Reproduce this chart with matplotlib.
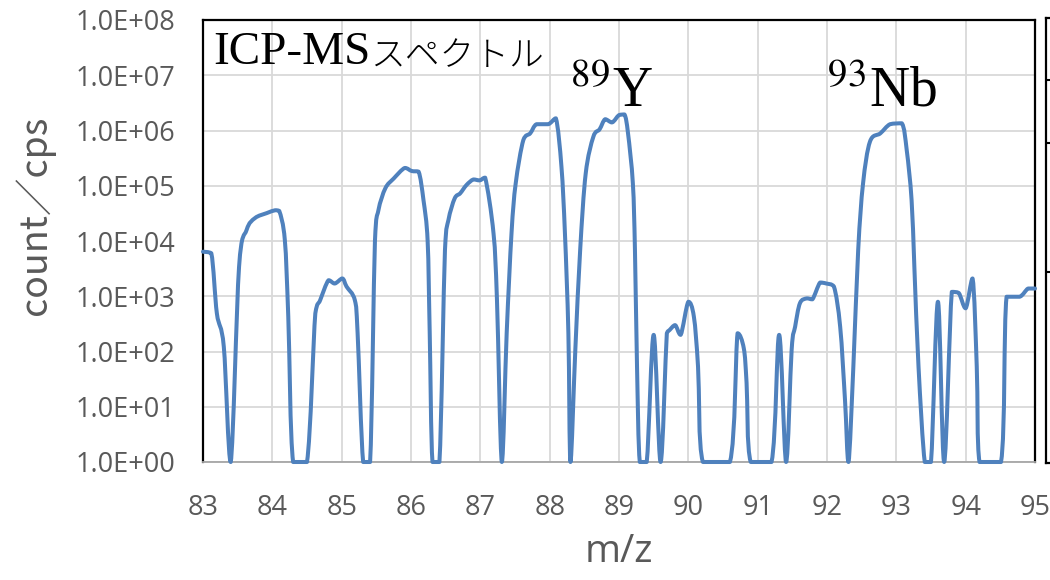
import matplotlib

matplotlib.use("Agg")
import matplotlib.pyplot as plt
import numpy as np
from matplotlib.patches import PathPatch
from matplotlib.path import Path
from matplotlib.ticker import FixedLocator, FuncFormatter, NullLocator

# traced spectrum (m/z, counts per second)
mz = [
    83.00, 83.12, 83.20, 83.30, 83.40, 83.52, 83.63, 83.75, 83.92, 84.04,
    84.10, 84.18, 84.23, 84.30, 84.50, 84.62, 84.69, 84.81, 84.90, 85.01,
    85.07, 85.19, 85.23, 85.31, 85.41, 85.48, 85.53, 85.63, 85.75, 85.91,
    86.01, 86.11, 86.18, 86.24, 86.27, 86.31, 86.41, 86.49, 86.54, 86.63,
    86.71, 86.80, 86.90, 86.99, 87.07, 87.19, 87.24, 87.31, 87.38, 87.45,
    87.51, 87.62, 87.72, 87.81, 87.98, 88.09, 88.17, 88.22, 88.27, 88.30,
    88.37, 88.44, 88.52, 88.63, 88.72, 88.80, 88.90, 89.00, 89.08, 89.13,
    89.20, 89.23, 89.26, 89.30, 89.40, 89.50, 89.60, 89.69, 89.73, 89.81,
    89.89, 90.00, 90.08, 90.14, 90.21, 90.60, 90.71, 90.80, 90.84, 90.90,
    91.20, 91.31, 91.41, 91.49, 91.54, 91.61, 91.71, 91.79, 91.90, 91.99,
    92.10, 92.19, 92.26, 92.31, 92.38, 92.45, 92.52, 92.62, 92.77, 92.91,
    93.08, 93.15, 93.22, 93.26, 93.32, 93.41, 93.50, 93.60, 93.69, 93.80,
    93.90, 94.00, 94.10, 94.16, 94.20, 94.51, 94.59, 94.78, 94.90, 95.00,
]
counts = [
    6.4e3, 6.0e3, 490, 122, 1, 3.4e3, 1.6e4, 2.6e4, 3.2e4, 3.6e4,
    3.5e4, 1.05e4, 426, 1, 1, 490, 850, 1.95e3, 1.7e3, 2.1e3,
    1.5e3, 850, 214, 1, 1, 1.0e4, 3.6e4, 9.0e4, 1.35e5, 2.1e5,
    1.85e5, 1.8e5, 5.5e4, 1.0e4, 214, 1, 1, 6.9e3, 2.4e4, 5.9e4,
    7.3e4, 1.03e5, 1.3e5, 1.25e5, 1.4e5, 1.38e4, 850, 1, 214, 1.4e4,
    1.1e5, 6.7e5, 8.9e5, 1.3e6, 1.3e6, 1.66e6, 2.2e5, 1.4e4, 214, 1,
    107, 6.9e3, 1.67e5, 7.7e5, 1.05e6, 1.6e6, 1.4e6, 1.9e6, 1.95e6, 8.9e5,
    1.1e5, 6.9e3, 53, 1, 1, 200, 1, 214, 245, 300,
    200, 795, 426, 53, 1, 1, 214, 114, 27, 1,
    1, 200, 1, 107, 280, 750, 915, 880, 1.77e3, 1.7e3,
    1.5e3, 280, 13, 1, 53, 6.9e3, 1.1e5, 6.3e5, 8.9e5, 1.3e6,
    1.35e6, 4.4e5, 5.5e4, 3.4e3, 53, 1, 1, 795, 1, 1.2e3,
    1.15e3, 605, 2.1e3, 53, 1, 1, 980, 980, 1.38e3, 1.38e3,
]

x_ticks = list(range(83, 96))
y_ticks = [10.0 ** k for k in range(0, 9)]

peak_labels = ["$^{89}$Y", "$^{93}$Nb"]
peak_pos = [(88.29, 2.7e6), (92.0, 2.7e6)]

LINE_COLOR = "#4F81BD"
TEXT_GRAY = "#595959"


def smoothed_path(xs, ys):
    """Bezier path through the points, like a spreadsheet 'smoothed line' (log y)."""
    x = np.asarray(xs, float)
    ly = np.log10(np.asarray(ys, float))
    n = len(x)
    verts = [(x[0], ly[0])]
    codes = [Path.MOVETO]
    for i in range(n - 1):
        i0, i3 = max(i - 1, 0), min(i + 2, n - 1)
        lo, hi = sorted((ly[i], ly[i + 1]))
        c1x = x[i] + (x[i + 1] - x[i0]) / 6
        c1y = ly[i] + (ly[i + 1] - ly[i0]) / 6
        c2x = x[i + 1] - (x[i3] - x[i]) / 6
        c2y = ly[i + 1] - (ly[i3] - ly[i]) / 6
        c1x = min(max(c1x, x[i]), x[i + 1])
        c2x = min(max(c2x, x[i]), x[i + 1])
        # keep each segment inside its own y range, so no overshoot
        c1y = min(max(c1y, lo), hi)
        c2y = min(max(c2y, lo), hi)
        verts += [(c1x, c1y), (c2x, c2y), (x[i + 1], ly[i + 1])]
        codes += [Path.CURVE4] * 3
    verts = np.array(verts)
    verts[:, 1] = 10.0 ** verts[:, 1]
    return Path(verts, codes)


plt.rcParams["mathtext.fontset"] = "stix"
plt.rcParams["font.family"] = ["Open Sans", "DejaVu Sans"]

fig = plt.figure(figsize=(10.5, 5.8), dpi=100)
ax = fig.add_axes([203 / 1050, 118 / 580, 832 / 1050, 442 / 580])

ax.set_yscale("log")
ax.set_xlim(83, 95)
ax.set_ylim(1, 1e8)

spectrum = PathPatch(smoothed_path(mz, counts), fill=False, edgecolor=LINE_COLOR,
                     linewidth=2.9, joinstyle="round", capstyle="round",
                     transform=ax.transData, clip_on=False, zorder=3)
ax.add_patch(spectrum)

ax.xaxis.set_major_locator(FixedLocator(x_ticks))
ax.yaxis.set_major_locator(FixedLocator(y_ticks))
ax.yaxis.set_minor_locator(NullLocator())
ax.yaxis.set_major_formatter(FuncFormatter(lambda v, _: f"{v:.1E}"))
ax.grid(True, color="#D9D9D9", linewidth=1.3, zorder=0)
ax.set_axisbelow(True)

ax.tick_params(axis="both", length=0, labelcolor=TEXT_GRAY, labelsize=19.5)
ax.tick_params(axis="y", pad=20)
ax.tick_params(axis="x", pad=23)

for side in ["left", "top", "right"]:
    ax.spines[side].set_color("black")
    ax.spines[side].set_linewidth(1.6)
ax.spines["bottom"].set_color("#A6A6A6")
ax.spines["bottom"].set_linewidth(1.3)

ax.set_xlabel("m/z", fontsize=28, color=TEXT_GRAY, labelpad=8)
ax.set_ylabel("count／cps", fontsize=27, color=TEXT_GRAY,
              family=["Noto Sans CJK JP", "DejaVu Sans"])
ax.yaxis.set_label_coords(-0.178, 0.557)

title = ax.text(0.012, 0.90, "ICP-MS", transform=ax.transAxes, fontsize=34,
                family="Liberation Serif", ha="left", va="baseline")
ax.annotate("スペクトル", xy=(1, 0), xycoords=title, ha="left", va="bottom",
            xytext=(0, 0), textcoords="offset points", fontsize=25,
            family="Noto Sans CJK JP", fontweight="light")

for lab, (px, py) in zip(peak_labels, peak_pos):
    ax.text(px, py, lab, fontsize=40, family="Liberation Serif",
            ha="left", va="baseline")

# edge of the neighbouring panel, cut off at the right border
side = fig.add_axes([1046 / 1050, 117 / 580, 6 / 1050, 445 / 580])
side.set_xlim(0, 1)
side.set_ylim(0, 1)
side.set_xticks([])
side.set_yticks([0.861, 0.719, 0.429])
side.set_yticklabels([])
side.tick_params(axis="y", direction="in", length=4, width=1.5, color="black")
side.spines["right"].set_visible(False)
for s in ["left", "top", "bottom"]:
    side.spines[s].set_linewidth(1.6)

fig.savefig("out.png", dpi=100)
